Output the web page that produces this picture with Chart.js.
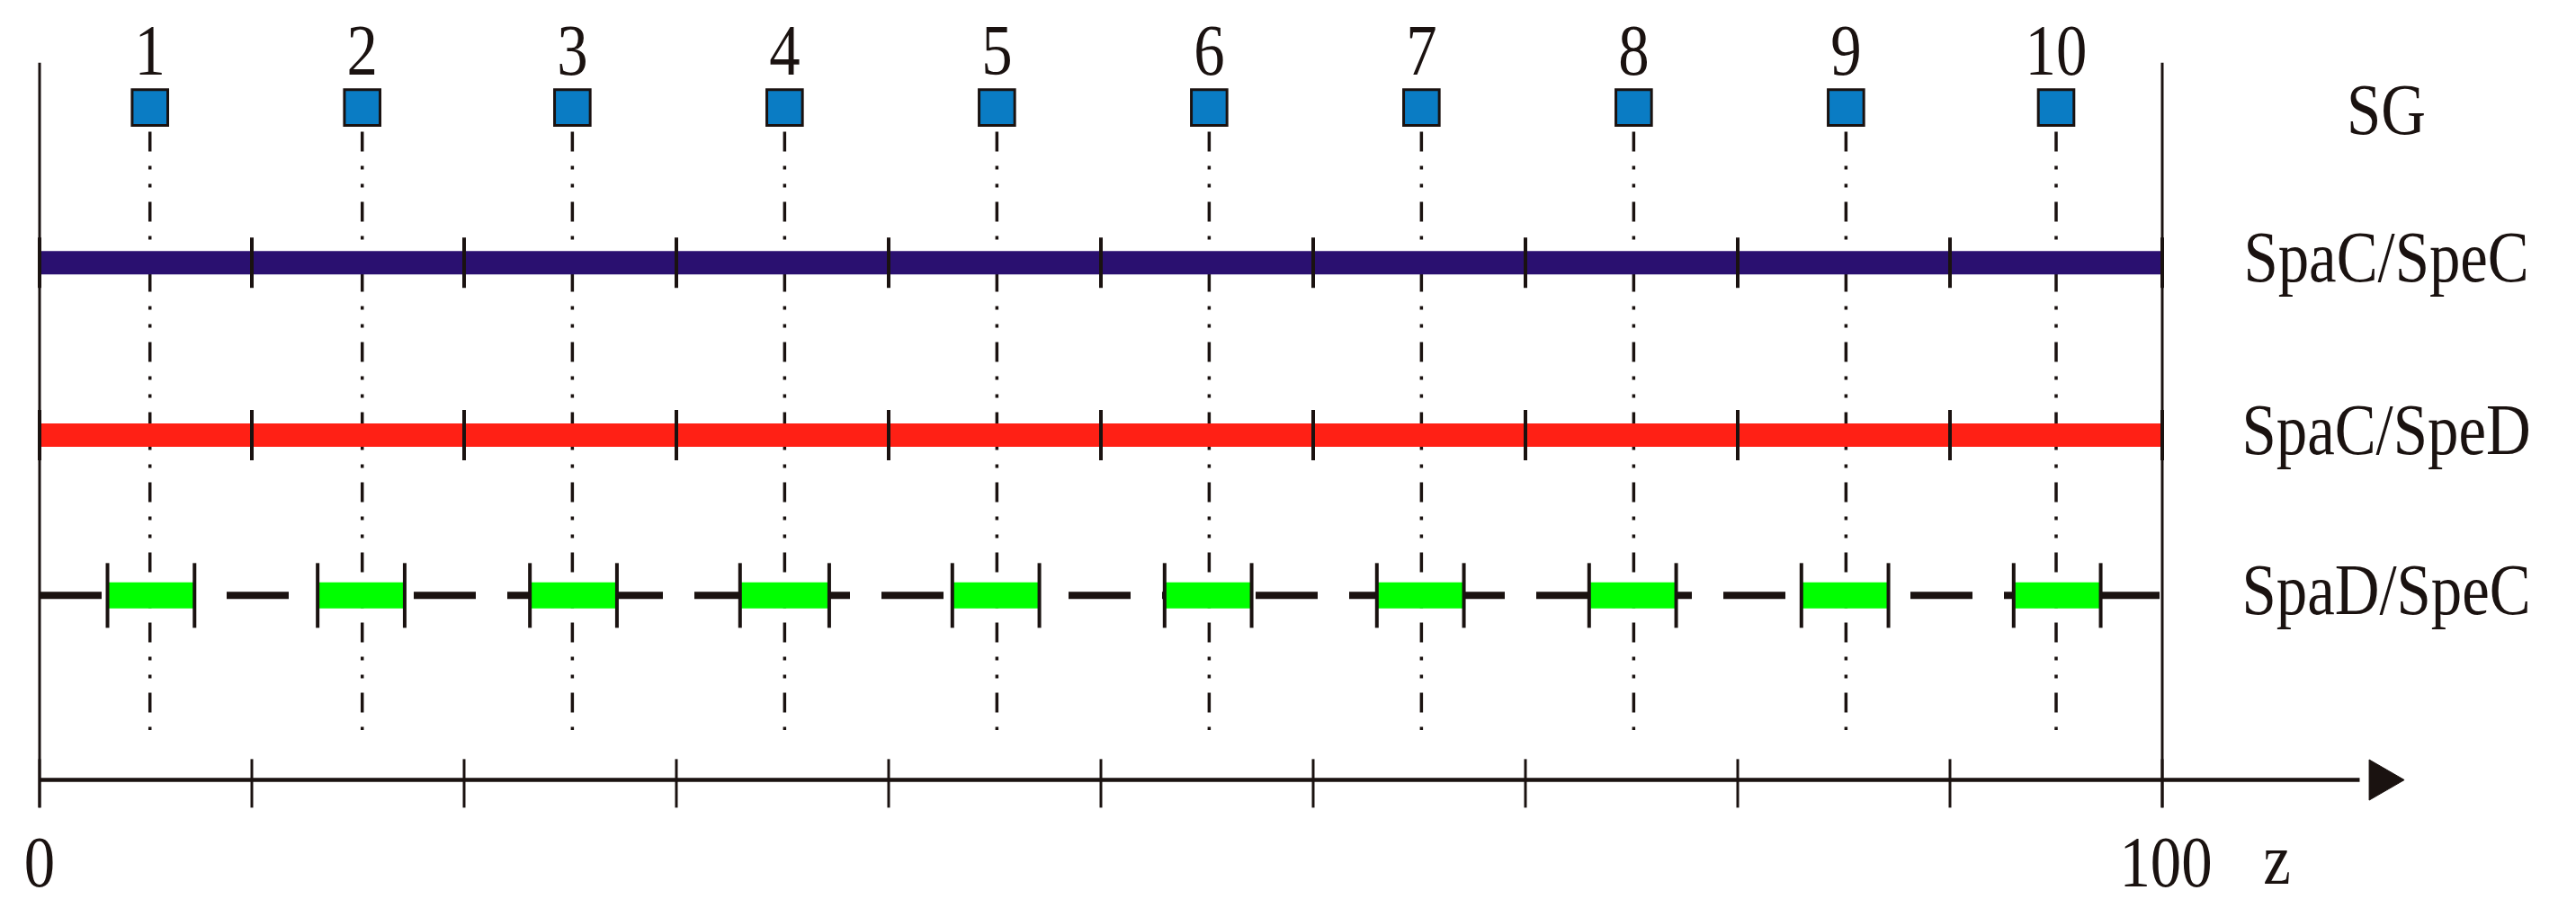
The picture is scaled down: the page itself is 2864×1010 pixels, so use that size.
<!DOCTYPE html>
<html>
<head>
<meta charset="UTF-8">
<script src="https://cdn.jsdelivr.net/npm/chart.js"></script>
<style>
  * { margin: 0; padding: 0; }
  body { background: #fff; width: 2864px; height: 1010px; overflow: hidden; }
</style>
</head>
<body>
<canvas id="c" width="2864" height="1010"></canvas>
<script>
// data
const zTicks = [0, 10, 20, 30, 40, 50, 60, 70, 80, 90, 100];
const sgNumbers = ['1', '2', '3', '4', '5', '6', '7', '8', '9', '10'];
const sgPositions = [5.2, 15.2, 25.1, 35.1, 45.1, 55.1, 65.1, 75.1, 85.1, 95.0];
const greenStart = [3.2, 13.1, 23.1, 33.0, 43.0, 53.0, 63.0, 73.0, 83.0, 93.0];
const greenEnd = [7.3, 17.2, 27.2, 37.2, 47.1, 57.1, 67.1, 77.1, 87.1, 97.1];
const rowNames = ['SG', 'SpaC/SpeC', 'SpaC/SpeD', 'SpaD/SpeC'];
const rowLevels = [3.9, 3.0, 2.0, 1.07];
const zMin = 0, zMax = 100, zArrow = 110.3;

const pts = (xs, y) => xs.map(x => ({ x, y }));
function segments(a, b, y) {
  const out = [];
  a.forEach((s, i) => { out.push({ x: s, y }, { x: b[i], y }, { x: b[i], y: null }); });
  return out;
}
function verticals(xs, y0, y1) {
  const out = [];
  xs.forEach(x => { out.push({ x, y: y0 }, { x, y: y1 }, { x, y: null }); });
  return out;
}
const line = (data, color, width, extra = {}) => Object.assign({
  type: 'line', data, borderColor: color, borderWidth: width, pointRadius: 0,
  spanGaps: false, borderCapStyle: 'butt', tension: 0
}, extra);
const ticks = (data, r, w) => ({
  type: 'scatter', data, pointStyle: 'line', rotation: 90, pointRadius: r,
  borderColor: '#1a1210', borderWidth: w, backgroundColor: '#1a1210'
});

const datasets = [
  // SG dash-dot guide lines
  line(verticals(sgPositions, 3.76, 0.29), '#1a1210', 3.5, { borderDash: [22, 16, 4, 16, 4, 16] }),
  // plot frame
  line(verticals([zMin, zMax], 4.16, -0.16), '#1a1210', 3),
  // z axis
  line(pts([zMin, zArrow - 1], 0), '#1a1210', 4.5),
  ticks(pts(zTicks, -0.02), 27, 3),
  { type: 'scatter', data: [{ x: zArrow, y: 0 }], pointStyle: 'triangle', rotation: 90, pointRadius: 26,
    backgroundColor: '#1a1210', borderColor: '#1a1210', borderWidth: 1 },
  // SpaC/SpeC
  line(pts([zMin, zMax], rowLevels[1]), '#2a1070', 26),
  ticks(pts(zTicks, rowLevels[1]), 28, 4),
  // SpaC/SpeD
  line(pts([zMin, zMax], rowLevels[2]), '#ff2015', 26),
  ticks(pts(zTicks, rowLevels[2]), 28, 4),
  // SpaD/SpeC
  line(pts([zMin, zMax], rowLevels[3]), '#1a1210', 8, { borderDash: [69, 35] }),
  line(segments(greenStart, greenEnd, rowLevels[3]), '#00ff00', 29),
  ticks(pts(greenStart.concat(greenEnd), rowLevels[3]), 36, 4),
  // SG squares
  { type: 'scatter', data: pts(sgPositions, rowLevels[0]), pointStyle: 'rect', pointRadius: 28,
    backgroundColor: '#0a7cc4', borderColor: '#1a1210', borderWidth: 3 }
];
// later entries on top
datasets.forEach((d, i) => { d.order = datasets.length - i; });

const textPlugin = {
  id: 'texts',
  afterDatasetsDraw(chart) {
    const { ctx, scales: { x, y } } = chart;
    const sx = 0.86;
    const put = (t, px, py) => ctx.fillText(t, px / sx, py);
    ctx.save();
    ctx.scale(sx, 1);
    ctx.fillStyle = '#1a1210';
    ctx.font = '80px "Liberation Serif", serif';
    ctx.textAlign = 'center';
    ctx.textBaseline = 'middle';
    sgPositions.forEach((p, i) => put(sgNumbers[i], x.getPixelForValue(p), 62));
    const labelX = x.getPixelForValue(zArrow) + 6;
    rowNames.forEach((n, i) => put(n, labelX, y.getPixelForValue(rowLevels[i]) + (i === 0 ? 8 : 0)));
    put(String(zMin), x.getPixelForValue(zMin), 965);
    put(String(zMax), x.getPixelForValue(zMax) + 4, 965);
    put('z', x.getPixelForValue(105.4), 962);
    ctx.restore();
  }
};

new Chart(document.getElementById('c'), {
  data: { datasets },
  options: {
    responsive: false, animation: false, devicePixelRatio: 1,
    layout: { padding: 0, autoPadding: false },
    plugins: { legend: { display: false }, tooltip: { enabled: false } },
    scales: {
      x: { type: 'linear', display: false, min: -44 / 23.6, max: (2864 - 44) / 23.6 },
      y: { type: 'linear', display: false, min: (475 - 553) / 105, max: 475 / 105 }
    }
  },
  plugins: [textPlugin]
});
</script>
</body>
</html>
